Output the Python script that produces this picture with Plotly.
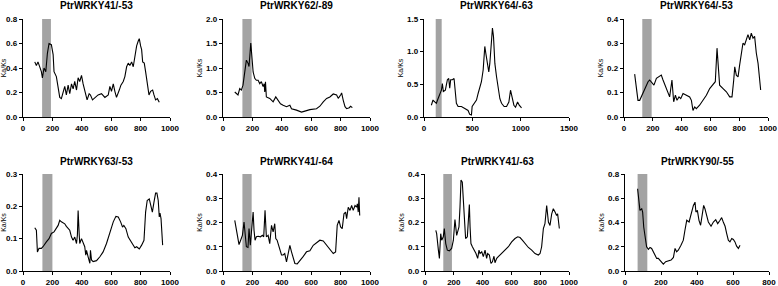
import plotly.graph_objects as go

titles = ["PtrWRKY41/-53", "PtrWRKY62/-89", "PtrWRKY64/-63", "PtrWRKY64/-53",
          "PtrWRKY63/-53", "PtrWRKY41/-64", "PtrWRKY41/-63", "PtrWRKY90/-55"]

x1 = [80, 91, 102, 114, 125, 132, 143, 155, 166, 177, 193, 205, 211, 227, 239, 250, 261, 273, 284, 295, 307, 318, 330, 341, 352, 364, 375, 386, 398, 409, 420, 436, 450, 459, 473, 489, 511, 534, 557, 580, 591, 602, 614, 625, 636, 655, 666, 682, 693, 705, 716, 727, 739, 750, 757, 773, 784, 791, 800, 807, 814, 825, 834, 845, 857, 868, 882, 891, 902, 914, 927]
y1 = [0.45, 0.42, 0.45, 0.41, 0.37, 0.32, 0.40, 0.37, 0.52, 0.60, 0.59, 0.51, 0.37, 0.33, 0.25, 0.16, 0.15, 0.21, 0.25, 0.18, 0.26, 0.19, 0.27, 0.23, 0.29, 0.22, 0.32, 0.29, 0.34, 0.27, 0.22, 0.14, 0.19, 0.18, 0.14, 0.16, 0.18, 0.19, 0.16, 0.18, 0.25, 0.21, 0.27, 0.21, 0.16, 0.22, 0.26, 0.29, 0.33, 0.41, 0.44, 0.42, 0.45, 0.41, 0.47, 0.58, 0.62, 0.64, 0.58, 0.55, 0.45, 0.44, 0.37, 0.27, 0.18, 0.21, 0.22, 0.18, 0.14, 0.15, 0.12]

x2 = [80, 91, 102, 114, 125, 136, 148, 159, 170, 177, 189, 195, 205, 216, 227, 239, 250, 261, 273, 280, 284, 289, 295, 318, 341, 359, 375, 391, 409, 432, 455, 466, 500, 534, 557, 591, 636, 659, 682, 705, 727, 750, 773, 784, 800, 807, 818, 830, 841, 859, 868, 880]
y2 = [0.51, 0.48, 0.45, 0.58, 0.55, 0.65, 0.89, 1.16, 1.10, 1.03, 1.51, 1.23, 0.92, 0.79, 0.75, 0.75, 0.68, 0.72, 0.62, 0.68, 0.51, 0.72, 0.41, 0.38, 0.31, 0.41, 0.34, 0.27, 0.24, 0.21, 0.24, 0.17, 0.14, 0.10, 0.12, 0.15, 0.17, 0.22, 0.31, 0.38, 0.41, 0.47, 0.45, 0.38, 0.45, 0.49, 0.34, 0.21, 0.17, 0.19, 0.22, 0.19]

x3 = [76, 93, 111, 128, 145, 162, 180, 190, 200, 221, 242, 256, 266, 276, 294, 311, 325, 335, 353, 387, 422, 456, 473, 491, 498, 518, 543, 560, 577, 594, 612, 629, 639, 653, 670, 681, 698, 708, 719, 733, 750, 767, 785, 802, 829, 854, 878, 895, 912, 930, 947, 968, 985, 1009]
y3 = [0.18, 0.26, 0.23, 0.21, 0.28, 0.36, 0.41, 0.51, 0.39, 0.41, 0.57, 0.59, 0.44, 0.57, 0.57, 0.59, 0.36, 0.21, 0.16, 0.16, 0.13, 0.10, 0.04, 0.03, 0.16, 0.21, 0.26, 0.36, 0.46, 0.54, 0.72, 1.08, 0.98, 0.82, 0.69, 0.82, 1.13, 1.36, 1.23, 0.82, 0.62, 0.46, 0.28, 0.21, 0.16, 0.16, 0.23, 0.41, 0.28, 0.18, 0.15, 0.23, 0.18, 0.14]

x4 = [74, 86, 97, 109, 120, 144, 167, 178, 190, 208, 225, 248, 259, 271, 294, 317, 333, 345, 357, 368, 382, 394, 410, 433, 456, 468, 479, 491, 502, 525, 549, 572, 595, 618, 634, 646, 653, 664, 688, 711, 734, 750, 762, 769, 780, 792, 803, 815, 826, 838, 850, 861, 873, 884, 896, 907, 919, 931, 949]
y4 = [0.175, 0.123, 0.068, 0.068, 0.082, 0.116, 0.144, 0.151, 0.144, 0.130, 0.158, 0.167, 0.171, 0.151, 0.116, 0.082, 0.151, 0.062, 0.089, 0.068, 0.082, 0.075, 0.096, 0.089, 0.082, 0.068, 0.027, 0.041, 0.034, 0.048, 0.068, 0.089, 0.116, 0.130, 0.144, 0.281, 0.226, 0.130, 0.116, 0.103, 0.082, 0.082, 0.151, 0.205, 0.171, 0.164, 0.212, 0.260, 0.301, 0.295, 0.322, 0.336, 0.315, 0.342, 0.322, 0.329, 0.260, 0.219, 0.110]

x5 = [80, 91, 98, 109, 125, 136, 159, 177, 193, 211, 239, 250, 261, 273, 284, 295, 318, 330, 341, 352, 364, 370, 375, 382, 386, 398, 409, 420, 427, 432, 443, 455, 459, 466, 477, 500, 523, 545, 568, 591, 614, 632, 648, 664, 677, 686, 700, 716, 739, 761, 773, 791, 807, 823, 834, 845, 859, 868, 880, 891, 902, 911, 920, 927, 932, 939, 950]
y5 = [0.134, 0.126, 0.059, 0.070, 0.070, 0.075, 0.090, 0.100, 0.116, 0.121, 0.141, 0.157, 0.152, 0.148, 0.146, 0.138, 0.126, 0.105, 0.095, 0.105, 0.085, 0.111, 0.187, 0.116, 0.085, 0.100, 0.085, 0.075, 0.049, 0.064, 0.044, 0.024, 0.064, 0.034, 0.029, 0.032, 0.044, 0.059, 0.085, 0.121, 0.152, 0.169, 0.167, 0.152, 0.136, 0.141, 0.131, 0.105, 0.090, 0.072, 0.075, 0.068, 0.080, 0.095, 0.182, 0.218, 0.223, 0.208, 0.182, 0.213, 0.241, 0.241, 0.218, 0.167, 0.179, 0.162, 0.080]

x6 = [80, 91, 102, 109, 120, 132, 143, 150, 159, 170, 177, 186, 193, 205, 211, 218, 227, 239, 255, 268, 277, 286, 295, 307, 318, 330, 341, 352, 359, 368, 375, 386, 398, 409, 420, 432, 443, 455, 466, 477, 489, 505, 523, 545, 568, 591, 614, 636, 659, 682, 705, 727, 750, 766, 777, 789, 800, 811, 823, 834, 841, 852, 864, 875, 886, 898, 909, 914, 920, 925, 930]
y6 = [0.209, 0.168, 0.127, 0.109, 0.127, 0.147, 0.202, 0.141, 0.100, 0.097, 0.175, 0.106, 0.154, 0.243, 0.168, 0.127, 0.141, 0.143, 0.141, 0.147, 0.141, 0.250, 0.141, 0.147, 0.113, 0.188, 0.161, 0.195, 0.134, 0.127, 0.113, 0.086, 0.066, 0.066, 0.072, 0.038, 0.072, 0.106, 0.079, 0.052, 0.031, 0.029, 0.045, 0.059, 0.079, 0.083, 0.106, 0.116, 0.127, 0.124, 0.106, 0.086, 0.072, 0.079, 0.188, 0.209, 0.182, 0.175, 0.236, 0.243, 0.216, 0.263, 0.250, 0.270, 0.250, 0.270, 0.263, 0.277, 0.243, 0.304, 0.229]

x7 = [75, 81, 93, 100, 109, 116, 127, 134, 144, 155, 169, 185, 197, 208, 220, 227, 236, 243, 250, 259, 266, 273, 282, 294, 301, 308, 313, 319, 329, 343, 354, 366, 375, 382, 394, 405, 417, 428, 435, 447, 458, 468, 479, 486, 498, 509, 532, 556, 579, 602, 625, 644, 660, 676, 695, 718, 741, 764, 787, 799, 810, 822, 833, 845, 857, 868, 880, 891, 903, 914, 921, 933]
y7 = [0.168, 0.154, 0.086, 0.052, 0.154, 0.127, 0.141, 0.175, 0.113, 0.086, 0.083, 0.093, 0.127, 0.212, 0.147, 0.161, 0.182, 0.263, 0.375, 0.366, 0.291, 0.182, 0.134, 0.141, 0.236, 0.274, 0.182, 0.113, 0.100, 0.086, 0.072, 0.052, 0.086, 0.072, 0.079, 0.059, 0.086, 0.052, 0.072, 0.066, 0.031, 0.038, 0.061, 0.034, 0.052, 0.059, 0.072, 0.086, 0.100, 0.120, 0.134, 0.141, 0.138, 0.127, 0.113, 0.097, 0.086, 0.072, 0.066, 0.072, 0.100, 0.175, 0.195, 0.270, 0.202, 0.188, 0.236, 0.257, 0.243, 0.229, 0.236, 0.175]

x8 = [70, 78, 83, 93, 98, 104, 111, 120, 130, 139, 148, 157, 167, 176, 185, 200, 213, 226, 241, 256, 269, 278, 287, 296, 311, 324, 333, 343, 356, 363, 370, 380, 389, 394, 402, 411, 420, 430, 437, 444, 454, 463, 478, 491, 504, 515, 528, 537, 546, 556, 565, 574, 583, 593, 602, 611, 620, 630, 639]
y8 = [0.678, 0.582, 0.500, 0.514, 0.486, 0.363, 0.281, 0.199, 0.178, 0.194, 0.186, 0.158, 0.131, 0.104, 0.104, 0.077, 0.057, 0.077, 0.085, 0.090, 0.112, 0.186, 0.158, 0.172, 0.213, 0.254, 0.336, 0.418, 0.404, 0.451, 0.500, 0.541, 0.568, 0.486, 0.500, 0.418, 0.377, 0.459, 0.541, 0.514, 0.459, 0.404, 0.369, 0.404, 0.423, 0.391, 0.418, 0.440, 0.404, 0.369, 0.309, 0.254, 0.240, 0.268, 0.260, 0.240, 0.205, 0.186, 0.213]

xs = [x1, x2, x3, x4, x5, x6, x7, x8]
ys = [y1, y2, y3, y4, y5, y6, y7, y8]

x_max = [1000, 1000, 1500, 1000, 1000, 1000, 1000, 800]
x_dtick = [200, 200, 500, 200, 200, 200, 200, 200]
y_max = [0.8, 2.0, 1.5, 0.4, 0.3, 0.4, 0.4, 0.8]
y_dtick = [0.2, 0.5, 0.5, 0.1, 0.1, 0.1, 0.1, 0.2]
shade_start = [130, 132, 121, 127, 132, 132, 127, 70]
shade_end = [190, 195, 183, 192, 200, 195, 187, 124]

W, H = 778, 286
# pixel boxes (left, right) and (top, bottom)
px_x = [(23, 170), (223, 370), (424, 569), (624, 768),
        (23, 170), (223, 370), (425, 569), (625, 769)]
px_y = [(19, 117)] * 4 + [(174, 271)] * 4

FONT = "Liberation Sans, Arial, sans-serif"
fig = go.Figure()
layout = dict(
    width=W, height=H, autosize=False,
    margin=dict(l=0, r=0, t=0, b=0, pad=0, autoexpand=False),
    paper_bgcolor="white", plot_bgcolor="white", showlegend=False,
    shapes=[], annotations=[],
)

for i in range(8):
    n = i + 1
    xa = "xaxis" if n == 1 else f"xaxis{n}"
    ya = "yaxis" if n == 1 else f"yaxis{n}"
    xr = "x" if n == 1 else f"x{n}"
    yr = "y" if n == 1 else f"y{n}"
    l, r = px_x[i]
    t, b = px_y[i]
    layout[xa] = dict(
        domain=[l / W, r / W], anchor=yr, range=[0, x_max[i]],
        dtick=x_dtick[i], tick0=0, showgrid=False, zeroline=False,
        showline=True, linecolor="black", linewidth=1.3,
        ticks="outside", ticklen=3, tickwidth=1, tickcolor="black",
        automargin=False,
        tickfont=dict(family=FONT, size=8, color="black", weight="bold"),
        fixedrange=True,
    )
    layout[ya] = dict(
        domain=[1 - b / H, 1 - t / H], anchor=xr, range=[0, y_max[i]],
        dtick=y_dtick[i], tick0=0, tickformat=".1f",
        showgrid=False, zeroline=False,
        showline=True, linecolor="black", linewidth=1.3,
        ticks="outside", ticklen=3, tickwidth=1, tickcolor="black",
        automargin=False,
        tickfont=dict(family=FONT, size=8, color="black", weight="bold"),
        title=dict(text="Ka/Ks", font=dict(family=FONT, size=7, color="black"), standoff=2),
        fixedrange=True,
    )
    layout["shapes"].append(dict(
        type="rect", xref=xr, yref=yr, x0=shade_start[i], x1=shade_end[i],
        y0=0, y1=y_max[i], fillcolor="#a3a3a3", line=dict(width=0), layer="below",
    ))
    layout["annotations"].append(dict(
        text=f"<b>{titles[i]}</b>", xref="paper", yref="paper",
        x=(l + r) / 2 / W, y=1 - (t - 13) / H, xanchor="center", yanchor="middle",
        showarrow=False, font=dict(family=FONT, size=10, color="black"),
    ))
    fig.add_trace(go.Scatter(
        x=xs[i], y=ys[i], mode="lines", xaxis=xr, yaxis=yr,
        line=dict(color="black", width=1.1), hoverinfo="skip",
    ))

fig.update_layout(**layout)
fig.write_html(
    "out.html",
    config={"displayModeBar": False, "staticPlot": True},
    post_script="document.body.style.margin='0';document.body.style.overflow='hidden';",
)
